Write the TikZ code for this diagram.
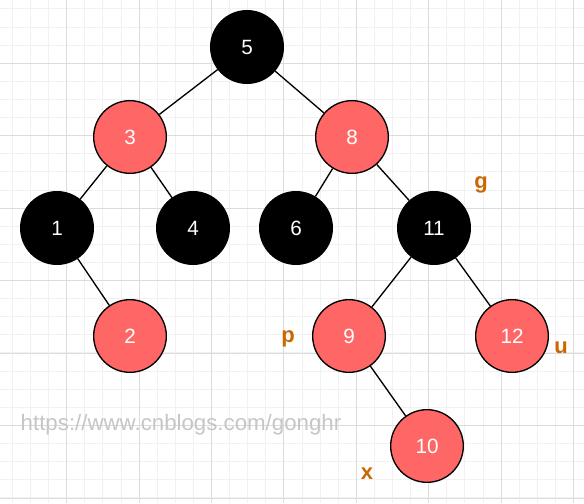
\documentclass[tikz,border=0pt]{standalone}
\usepackage{fontspec}
\setmainfont{Liberation Sans}
\definecolor{nodered}{HTML}{FF6666}
\definecolor{tagorange}{HTML}{CC6600}
\definecolor{gridminor}{HTML}{F1F1F1}
\definecolor{gridmajor}{HTML}{DCDCDC}
\definecolor{markgray}{HTML}{C6C6C6}
\begin{document}
\begin{tikzpicture}[x=0.75pt, y=-0.75pt,
  blacknode/.style={circle, draw=black, line width=1pt, fill=black, minimum size=54.5pt, inner sep=0pt, text=white, font=\fontsize{15.5}{17}\selectfont},
  rednode/.style={blacknode, fill=nodered},
  tag/.style={inner sep=0pt, text=tagorange, font=\fontsize{16.5}{18}\selectfont\bfseries},
  edge/.style={black, line width=1pt}]
\useasboundingbox (0,0) rectangle (584,503);
\fill[white] (0,0) rectangle (584,503);

% grid
\foreach \i in {0,...,31} \draw[gridminor, line width=0.75pt] (12.4+18.1*\i,0) -- (12.4+18.1*\i,503);
\foreach \j in {0,...,27} \draw[gridminor, line width=0.75pt] (0,9.0+18.1*\j) -- (584,9.0+18.1*\j);
\foreach \i in {1,...,8} \draw[gridmajor, line width=0.75pt] (-5.7+72.4*\i,0) -- (-5.7+72.4*\i,503);
\foreach \j in {0,...,6} \draw[gridmajor, line width=0.75pt] (0,63.3+72.5*\j) -- (584,63.3+72.5*\j);

% tree
\node[blacknode] (n5) at (247,47) {5};
\node[rednode] (n3) at (130,137) {3};
\node[rednode] (n8) at (352,137) {8};
\node[blacknode] (n1) at (57,228) {1};
\node[blacknode] (n4) at (193,228) {4};
\node[blacknode] (n6) at (296,228) {6};
\node[blacknode] (n11) at (434,228) {11};
\node[rednode] (n2) at (130,336) {2};
\node[rednode] (n9) at (349,336) {9};
\node[rednode] (n12) at (512,336) {12};
\node[rednode] (n10) at (427,446) {10};

\draw[edge] (n5) -- (n3);
\draw[edge] (n5) -- (n8);
\draw[edge] (n3) -- (n1);
\draw[edge] (n3) -- (n4);
\draw[edge] (n8) -- (n6);
\draw[edge] (n8) -- (n11);
\draw[edge] (n1) -- (n2);
\draw[edge] (n11) -- (n9);
\draw[edge] (n11) -- (n12);
\draw[edge] (n9) -- (n10);

% labels
\node[tag] (g) at (481,185) {g};
\node[tag] (p) at (288,339) {p};
\node[tag] (u) at (561,348) {u};
\node[tag] (x) at (367,474) {x};

\node[text=markgray, inner sep=0pt, font=\fontsize{16.7}{18}\selectfont] (mark) at (181,425) {https://www.cnblogs.com/gonghr};
\end{tikzpicture}
\end{document}
